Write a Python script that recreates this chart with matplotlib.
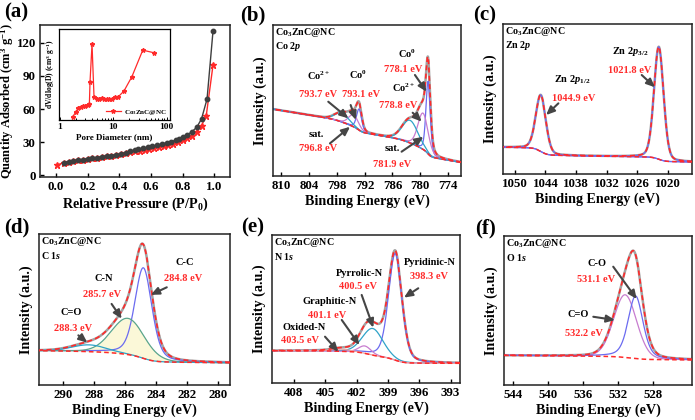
import numpy as np
import matplotlib
matplotlib.use('Agg')
import matplotlib.pyplot as plt

plt.rcParams['font.family'] = ['Liberation Serif', 'DejaVu Serif']
plt.rcParams['font.weight'] = 'bold'
plt.rcParams['axes.labelweight'] = 'bold'
plt.rcParams['mathtext.fontset'] = 'custom'
plt.rcParams['mathtext.rm'] = 'Liberation Serif:bold'
plt.rcParams['mathtext.it'] = 'Liberation Serif:italic:bold'
plt.rcParams['mathtext.bf'] = 'Liberation Serif:bold'

# ---------------- data: (a) N2 isotherm ----------------
ads_p = [0.01, 0.05, 0.08, 0.11, 0.14, 0.17, 0.20, 0.23, 0.26, 0.29, 0.32, 0.35, 0.38, 0.41,
         0.44, 0.47, 0.50, 0.53, 0.56, 0.59, 0.62, 0.65, 0.68, 0.71, 0.74, 0.77, 0.80, 0.83,
         0.86, 0.89, 0.92, 0.95, 0.993]
ads_v = [9.5, 11.5, 12.3, 13.0, 13.6, 14.2, 14.8, 15.4, 16.0, 16.6, 17.2, 17.8, 18.5, 19.2,
         20.0, 20.8, 21.6, 22.3, 23.0, 23.8, 24.6, 25.5, 26.4, 27.5, 28.7, 30.0, 31.6, 33.5,
         36.0, 39.5, 45.0, 54.0, 100.0]
des_p = [0.993, 0.955, 0.92, 0.89, 0.86, 0.83, 0.80, 0.78, 0.76, 0.73, 0.70, 0.67, 0.64,
         0.61, 0.58, 0.55, 0.52, 0.50, 0.47, 0.44, 0.41, 0.38, 0.35, 0.32, 0.29, 0.26, 0.23,
         0.20, 0.17, 0.14, 0.11, 0.08, 0.05]
des_v = [131.0, 69.0, 51.0, 43.5, 39.5, 36.6, 34.3, 33.0, 31.9, 30.6, 29.5, 28.4, 27.4,
         26.4, 25.5, 24.6, 23.8, 23.0, 21.8, 20.2, 19.3, 18.6, 17.9, 17.3, 16.7, 16.1, 15.5,
         14.9, 14.3, 13.7, 13.1, 12.4, 11.6]
pore_d = [1.73, 2.0, 2.2, 2.48, 2.74, 3.0, 3.3, 3.55, 3.65, 3.98, 4.34, 4.88, 5.46, 6.06,
          6.7, 7.5, 8.4, 9.4, 10.7, 12.4, 15.8, 22.2, 35.5, 57.0]
pore_dv = [0.036, 0.092, 0.129, 0.14, 0.154, 0.154, 0.165, 0.176, 0.42, 0.838, 0.25, 0.228,
           0.23, 0.24, 0.228, 0.228, 0.228, 0.228, 0.25, 0.257, 0.32, 0.477, 0.77, 0.742]

# ---------------- data: XPS fitted components ----------------
# (b) Co 2p : Co0 3/2, Co2+ 3/2, sat 3/2, Co0 1/2, Co2+ 1/2, sat 1/2
co_c = [778.3, 779.4, 782.2, 793.2, 794.4, 796.9]
co_w = [1.1, 2.6, 4.0, 1.3, 2.5, 3.5]
co_h = [0.48, 0.24, 0.15, 0.14, 0.08, 0.06]
co_eta = [0.3, 0.2, 0.1, 0.3, 0.2, 0.1]
co_step = [0.03, 0.03, 0.03, 0.02, 0.02, 0.02]
co_bg = [0.09, 0.005]
# (c) Zn 2p : 2p3/2, 2p1/2
zn_c = [1021.8, 1044.9]
zn_w = [2.2, 2.3]
zn_h = [0.75, 0.377]
zn_eta = [0.2, 0.2]
zn_step = [0.03, 0.05]
zn_bg = [0.08, 0.0005]
# (d) C 1s : C-C, C-N, C=O
c_c = [284.8, 285.8, 288.3]
c_w = [1.3, 2.5, 2.6]
c_h = [0.60, 0.24, 0.045]
c_eta = [0.35, 0.1, 0.1]
c_step = [0.04, 0.025, 0.005]
c_bg = [0.147, 0.0008]
# (e) N 1s : pyridinic, pyrrolic, graphitic, oxided
n_c = [398.3, 400.45, 401.2, 403.5]
n_w = [1.5, 2.3, 1.4, 2.0]
n_h = [0.72, 0.18, 0.05, 0.015]
n_eta = [0.3, 0.2, 0.2, 0.2]
n_step = [0.04, 0.03, 0.01, 0.005]
n_bg = [0.133, 0.0]
# (f) O 1s : C=O, C-O
o_c = [531.15, 529.95]
o_w = [3.1, 2.0]
o_h = [0.42, 0.42]
o_eta = [0.1, 0.4]
o_step = [0.01, 0.01]
o_bg = [0.168, 0.0005]

# ---------------- styling ----------------
RED = '#ff2a2a'
GRAY = '#a3a3a3'
BLUE = '#6b6bf0'
MAG = '#c77ccf'
CYAN = '#2fa3c8'
GREEN = '#5aa58c'
PINK = '#e9a3a3'
ARROW = '#454545'
LAB = 10.2

fig = plt.figure(figsize=(6.95, 4.2), dpi=100)
W, H = 695.0, 420.0


def make_ax(l, r, t, b):
    return fig.add_axes([l / W, 1 - b / H, (r - l) / W, (b - t) / H])


def style(ax):
    for s in ax.spines.values():
        s.set_linewidth(1.1)
        s.set_color('#222222')
    ax.tick_params(direction='in', length=3, width=1.0, labelsize=9.3, pad=3)


def pv(x, c, w, h, eta):
    u = (x - c) / w
    return h * (eta / (1 + 4 * u ** 2) + (1 - eta) * np.exp(-4 * np.log(2) * u ** 2))


def xps(ax, lo, hi, cen, wid, hgt, eta, step, bg, colors, bg_col=None, fill_idx=None):
    x = np.linspace(lo, hi, 1200)
    comps = [pv(x, c, w, h, e) for c, w, h, e in zip(cen, wid, hgt, eta)]
    base = bg[0] + bg[1] * (x - lo)
    for comp, s in zip(comps, step):
        cs = np.cumsum(comp)
        base = base + s * cs / cs[-1]
    env = base + np.sum(comps, axis=0)
    ax.plot(x, env, color=GRAY, lw=1.8, zorder=1)
    for i, (comp, col) in enumerate(zip(comps, colors)):
        if fill_idx is not None and i == fill_idx:
            ax.fill_between(x, base, base + comp, color='#fbf8d8', lw=0, zorder=1.5)
        ax.plot(x, base + comp, color=col, lw=0.9, zorder=2)
    if bg_col:
        ax.plot(x, base, color=bg_col, lw=0.9, zorder=2)
    ax.plot(x, base, color=RED, lw=1.1, ls=(0, (3, 2)), zorder=3)
    ax.plot(x, env, color=RED, lw=1.2, ls=(0, (3, 2)), zorder=3)
    ax.set_xlim(hi, lo)
    ax.set_ylim(0, 1)
    ax.set_yticks([])
    ax.set_xlabel('Binding Energy (eV)', fontsize=LAB, labelpad=2)
    ax.set_ylabel('Intensity (a.u.)', fontsize=LAB, labelpad=4)
    style(ax)


def txt(ax, x, y, s, color='black', ha='center', size=7.5):
    ax.text(x, y, s, transform=ax.transAxes, ha=ha, va='center', color=color,
            fontsize=size, fontweight='bold')


def arrow(ax, tail, head):
    ax.annotate('', xy=head, xytext=tail, xycoords='axes fraction', textcoords='axes fraction',
                arrowprops=dict(arrowstyle='-|>,head_length=0.5,head_width=0.22', color=ARROW,
                                lw=1.5, shrinkA=0, shrinkB=0), zorder=5)


def header(ax, name):
    txt(ax, 0.012, 0.952, r'Co$_3$ZnC@NC', ha='left', size=7.2)
    txt(ax, 0.012, 0.855, name, ha='left', size=7.2)


# ---------------- (a) ----------------
axa = make_ax(40, 230, 25, 177)
axa.plot(des_p, des_v, color='#3e3e3e', marker='o', ms=3.2, lw=1.0, zorder=3)
axa.plot(ads_p, ads_v, color=RED, marker='*', ms=4.5, lw=1.0, zorder=2)
axa.set_xlim(-0.1, 1.1)
axa.set_ylim(-1.5, 136)
axa.set_xticks([0.0, 0.2, 0.4, 0.6, 0.8, 1.0])
axa.set_xticklabels(['0.0', '0.2', '0.4', '0.6', '0.8', '1.0'])
axa.set_yticks([0, 30, 60, 90, 120])
axa.set_xlabel(r'Relative Pressure (P/P$_0$)', fontsize=LAB, labelpad=2)
axa.set_ylabel(r'Quantity Adsorbed (cm$^3$ g$^{-1}$)', fontsize=9.0)
axa.yaxis.set_label_coords(-0.125, 0.5)
style(axa)

axi = make_ax(59.3, 170, 29.3, 120)
axi.plot(pore_d, pore_dv, color=RED, marker='*', ms=3.2, lw=0.9, label=r'Co$_3$ZnC@NC')
axi.set_xscale('log')
axi.set_xlim(0.97, 115)
axi.set_ylim(0, 1)
axi.set_yticks([])
axi.set_xticks([1, 10, 100])
axi.set_xticklabels(['1', '10', '100'])
axi.tick_params(which='both', direction='in', labelsize=6.8, pad=2, length=2, width=0.7)
axi.tick_params(which='minor', length=1.2)
for s in axi.spines.values():
    s.set_linewidth(0.9)
axi.set_xlabel('Pore Diameter (nm)', fontsize=6.5, labelpad=1.5)
axi.set_ylabel(r'dV/dlog(D) (cm$^3$ g$^{-1}$)', fontsize=5.5, labelpad=2)
axi.legend(loc='lower right', frameon=False, fontsize=5, handlelength=2.2,
           borderpad=0.2, borderaxespad=0.3, handletextpad=0.4)

# ---------------- (b) ----------------
axb = make_ax(273, 461, 25, 176)
xps(axb, 771.2, 811.8, co_c, co_w, co_h, co_eta, co_step, co_bg,
    [BLUE, MAG, CYAN, BLUE, MAG, CYAN])
axb.set_xticks([810, 804, 798, 792, 786, 780, 774])
header(axb, r'Co 2$\mathit{p}$')
txt(axb, 0.241, 0.662, r'Co$^{2+}$')
txt(axb, 0.454, 0.669, r'Co$^{0}$')
txt(axb, 0.238, 0.543, '793.7 eV', RED)
txt(axb, 0.468, 0.543, '793.1 eV', RED)
txt(axb, 0.711, 0.812, r'Co$^{0}$')
txt(axb, 0.693, 0.707, '778.1 eV', RED)
txt(axb, 0.693, 0.581, r'Co$^{2+}$')
txt(axb, 0.667, 0.470, '778.8 eV', RED)
txt(axb, 0.232, 0.272, 'sat.')
txt(axb, 0.241, 0.183, '796.8 eV', RED)
txt(axb, 0.636, 0.183, 'sat.')
txt(axb, 0.631, 0.079, '781.9 eV', RED)
arrow(axb, (0.294, 0.492), (0.401, 0.382))
arrow(axb, (0.413, 0.470), (0.441, 0.371))
arrow(axb, (0.303, 0.216), (0.410, 0.326))
arrow(axb, (0.755, 0.669), (0.817, 0.558))
arrow(axb, (0.743, 0.419), (0.791, 0.360))
arrow(axb, (0.684, 0.161), (0.800, 0.260))

# ---------------- (c) ----------------
axc = make_ax(503, 692, 24, 174)
xps(axc, 1015.3, 1052.3, zn_c, zn_w, zn_h, zn_eta, zn_step, zn_bg, [BLUE, BLUE], bg_col=BLUE)
axc.set_xticks([1050, 1044, 1038, 1032, 1026, 1020])
header(axc, r'Zn 2$\mathit{p}$')
txt(axc, 0.672, 0.815, r'Zn 2$\mathit{p}_{3/2}$')
txt(axc, 0.668, 0.693, '1021.8 eV', RED)
txt(axc, 0.369, 0.627, r'Zn 2$\mathit{p}_{1/2}$')
txt(axc, 0.376, 0.505, '1044.9 eV', RED)
arrow(axc, (0.734, 0.660), (0.804, 0.578))
arrow(axc, (0.293, 0.471), (0.228, 0.393))

# ---------------- (d) ----------------
axd = make_ax(39, 230, 234, 385)
xps(axd, 279.2, 291.55, c_c, c_w, c_h, c_eta, c_step, c_bg, [BLUE, GREEN, CYAN], fill_idx=1)
axd.set_xticks([290, 288, 286, 284, 282, 280])
header(axd, r'C 1$\mathit{s}$')
txt(axd, 0.764, 0.811, 'C-C')
txt(axd, 0.755, 0.706, '284.8 eV', RED)
txt(axd, 0.337, 0.706, 'C-N')
txt(axd, 0.328, 0.597, '285.7 eV', RED)
txt(axd, 0.171, 0.478, 'C=O')
txt(axd, 0.176, 0.377, '288.3 eV', RED)
arrow(axd, (0.669, 0.647), (0.585, 0.597))
arrow(axd, (0.380, 0.537), (0.433, 0.439))
arrow(axd, (0.206, 0.329), (0.253, 0.281))

# ---------------- (e) ----------------
axe = make_ax(272, 460, 235, 383)
xps(axe, 392.1, 410.1, n_c, n_w, n_h, n_eta, n_step, n_bg, [BLUE, CYAN, MAG, PINK])
axe.set_xticks([408, 405, 402, 399, 396, 393])
header(axe, r'N 1$\mathit{s}$')
txt(axe, 0.840, 0.815, 'Pyridinic-N')
txt(axe, 0.837, 0.718, '398.3 eV', RED)
txt(axe, 0.464, 0.741, 'Pyrrolic-N')
txt(axe, 0.459, 0.651, '400.5 eV', RED)
txt(axe, 0.309, 0.550, 'Graphitic-N')
txt(axe, 0.294, 0.459, '401.1 eV', RED)
txt(axe, 0.170, 0.376, 'Oxided-N')
txt(axe, 0.149, 0.284, '403.5 eV', RED)
arrow(axe, (0.778, 0.640), (0.702, 0.577))
arrow(axe, (0.477, 0.595), (0.539, 0.374))
arrow(axe, (0.371, 0.426), (0.465, 0.257))
arrow(axe, (0.282, 0.313), (0.353, 0.211))

# ---------------- (f) ----------------
axf = make_ax(504, 692, 236, 385)
xps(axf, 523.5, 545.0, o_c, o_w, o_h, o_eta, o_step, o_bg, [MAG, BLUE])
axf.set_xticks([544, 540, 536, 532, 528])
header(axf, r'O 1$\mathit{s}$')
txt(axf, 0.493, 0.817, 'C-O')
txt(axf, 0.489, 0.711, '531.1 eV', RED)
txt(axf, 0.395, 0.470, 'C=O')
txt(axf, 0.426, 0.347, '532.2 eV', RED)
arrow(axf, (0.581, 0.794), (0.706, 0.577))
arrow(axf, (0.475, 0.458), (0.590, 0.436))

# ---------------- panel letters ----------------
for lab, px, py in [('(a)', 16, 12), ('(b)', 253, 15), ('(c)', 485, 15),
                    ('(d)', 17, 227), ('(e)', 253, 227), ('(f)', 486, 228)]:
    fig.text(px / W, 1 - py / H, lab, ha='center', va='center', fontsize=15, fontweight='bold')

fig.savefig('out.png', dpi=100)
